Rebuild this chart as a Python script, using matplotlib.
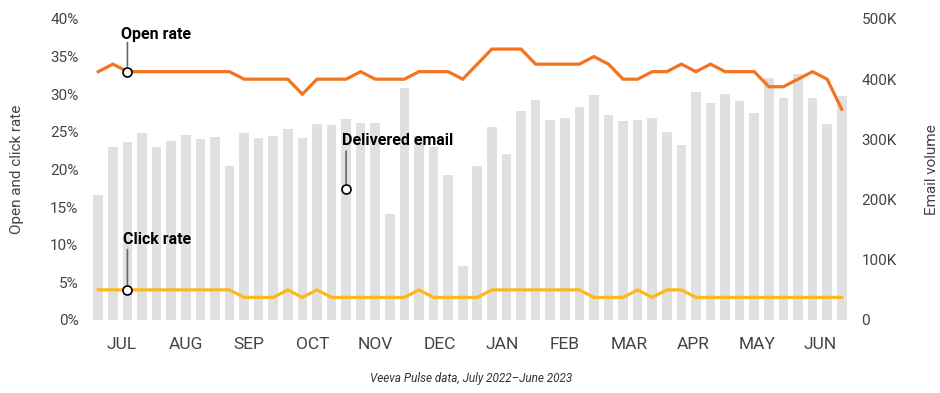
import matplotlib
matplotlib.use("Agg")
import matplotlib.pyplot as plt
import numpy as np
from matplotlib.ticker import FuncFormatter

plt.rcParams['font.family'] = ['Roboto', 'DejaVu Sans']

# weekly data, July 2022 - June 2023
open_rate = [33, 34, 33, 33, 33, 33, 33, 33, 33, 33, 32, 32, 32, 32, 30, 32, 32, 32, 33, 32,
             32, 32, 33, 33, 33, 32, 34, 36, 36, 36, 34, 34, 34, 34, 35, 34, 32, 32, 33, 33,
             34, 33, 34, 33, 33, 33, 31, 31, 32, 33, 32, 28]
click_rate = [4, 4, 4, 4, 4, 4, 4, 4, 4, 4, 3, 3, 3, 4, 3, 4, 3, 3, 3, 3,
              3, 3, 4, 3, 3, 3, 3, 4, 4, 4, 4, 4, 4, 4, 3, 3, 3, 4, 3, 4,
              4, 3, 3, 3, 3, 3, 3, 3, 3, 3, 3, 3]
volume_k = [208, 287, 295, 311, 287, 297, 307, 301, 304, 256, 311, 302, 306, 317, 302, 326, 324, 334, 327, 327,
            176, 385, 306, 287, 241, 89, 255, 320, 276, 347, 365, 332, 336, 354, 374, 341, 331, 332, 336, 313,
            290, 379, 360, 375, 364, 344, 402, 368, 409, 368, 325, 372]
months = ['JUL', 'AUG', 'SEP', 'OCT', 'NOV', 'DEC', 'JAN', 'FEB', 'MAR', 'APR', 'MAY', 'JUN']
month_pos = [1.6, 6.0, 10.3, 14.7, 19.0, 23.4, 27.7, 32.0, 36.4, 40.8, 45.2, 49.5]

weeks = np.arange(len(volume_k))
open_pct = np.array(open_rate) / 100
click_pct = np.array(click_rate) / 100
volume = np.array(volume_k) * 1000

orange = '#f47321'
yellow = '#fdb81e'
bar_grey = '#e0e0e0'
text_grey = '#444444'

fig = plt.figure(figsize=(9.4, 3.93), dpi=100)
ax = fig.add_axes([0.0968, 0.1858, 0.8064, 0.7659])
ax2 = ax.twinx()

ax2.bar(weeks, volume, width=0.66, color=bar_grey)
ax2.set_ylim(0, 500000)
ax2.set_yticks([0, 100000, 200000, 300000, 400000, 500000])
ax2.yaxis.set_major_formatter(FuncFormatter(lambda v, p: '0' if v == 0 else f'{int(v/1000)}K'))

ax.set_zorder(ax2.get_zorder() + 1)
ax.patch.set_visible(False)
ax.plot(weeks, open_pct, color=orange, lw=2.3, solid_joinstyle='miter')
ax.plot(weeks, click_pct, color=yellow, lw=2.3, solid_joinstyle='miter')
ax.set_ylim(0, 0.4)
ax.set_yticks(np.arange(0, 0.41, 0.05))
ax.yaxis.set_major_formatter(FuncFormatter(lambda v, p: f'{v*100:.0f}%'))
ax.set_xlim(-0.5, len(weeks) - 0.5)
ax.set_xticks(month_pos)
ax.set_xticklabels(months)

for a in (ax, ax2):
    for s in a.spines.values():
        s.set_visible(False)
    a.tick_params(length=0, labelsize=11, labelcolor=text_grey)
ax.tick_params(axis='y', pad=9)
ax2.tick_params(axis='y', pad=9)
ax.tick_params(axis='x', pad=12, labelsize=12.5)

ax.set_ylabel('Open and click rate', fontsize=11, color=text_grey, labelpad=19)
ax2.set_ylabel('Email volume', fontsize=11, color=text_grey, labelpad=20)

# callouts
marker_idx = 2
vol_idx = 17
vol_marker = 217000
mk = dict(marker='o', ms=6.5, mfc='white', mec='black', mew=1.2, zorder=5)
line_kw = dict(arrowstyle='-', color='#666666', lw=1.2, shrinkA=0, shrinkB=4)

ax.plot(weeks[marker_idx], open_pct[marker_idx], **mk)
ax.annotate('', xy=(weeks[marker_idx], open_pct[marker_idx]), xytext=(0, 21),
            textcoords='offset points', arrowprops=line_kw)
ax.annotate('Open rate', xy=(weeks[marker_idx], open_pct[marker_idx]), xytext=(-4.5, 23.5),
            textcoords='offset points', ha='left', va='baseline', fontsize=11.5, fontweight='bold')

ax.plot(weeks[marker_idx], click_pct[marker_idx], **mk)
ax.annotate('', xy=(weeks[marker_idx], click_pct[marker_idx]), xytext=(0, 29),
            textcoords='offset points', arrowprops=line_kw)
ax.annotate('Click rate', xy=(weeks[marker_idx], click_pct[marker_idx]), xytext=(-3, 33),
            textcoords='offset points', ha='left', va='baseline', fontsize=11.5, fontweight='bold')

ax2.plot(weeks[vol_idx], vol_marker, **mk)
ax2.annotate('', xy=(weeks[vol_idx], vol_marker), xytext=(0, 27.5),
             textcoords='offset points', arrowprops=line_kw)
ax2.annotate('Delivered email', xy=(weeks[vol_idx], vol_marker), xytext=(-3, 32),
             textcoords='offset points', ha='left', va='baseline', fontsize=11.5, fontweight='bold')

fig.text(0.501, 0.038, 'Veeva Pulse data, July 2022\u2013June 2023', ha='center', va='center',
         fontsize=8.5, style='italic', color='#333333')

fig.savefig('out.png', dpi=100)
